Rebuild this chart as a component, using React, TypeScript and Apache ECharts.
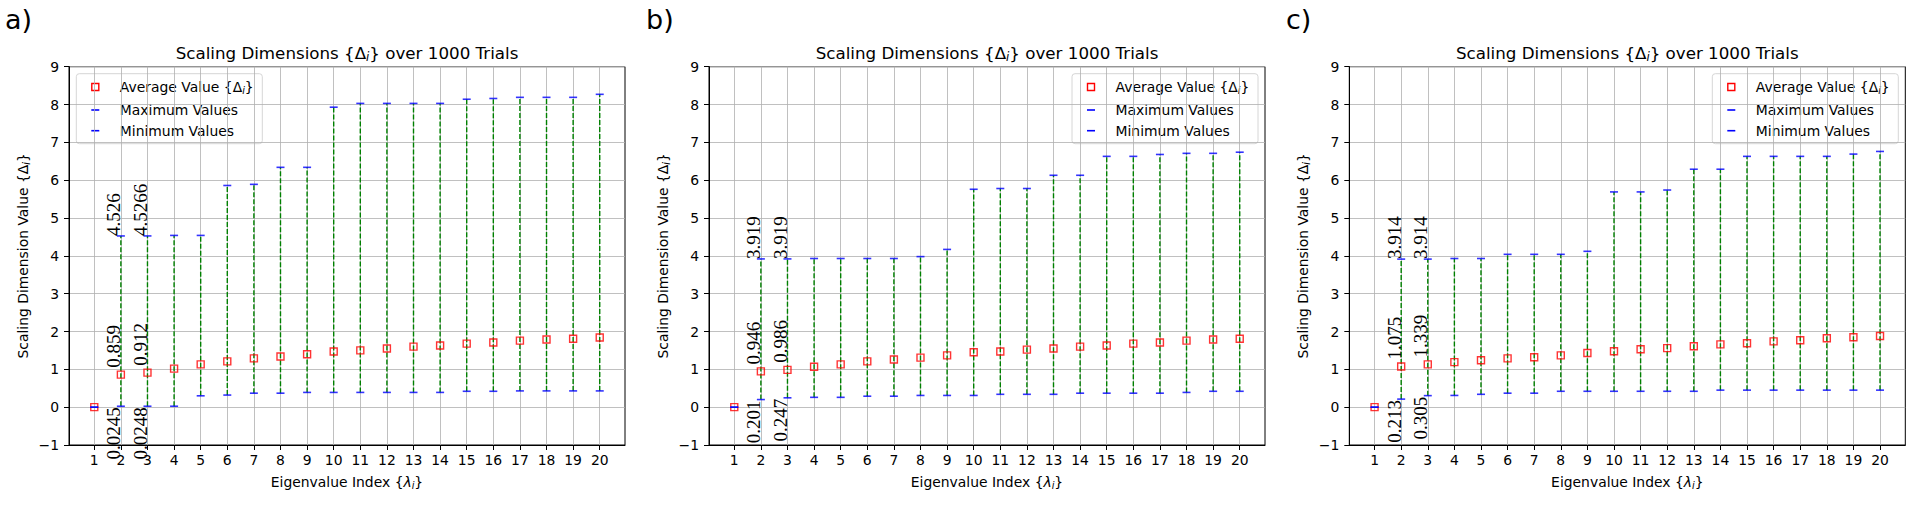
import React, { useEffect, useRef } from "react";
import * as echarts from "echarts";

// ---------------- data ----------------
const INDEX = [1, 2, 3, 4, 5, 6, 7, 8, 9, 10, 11, 12, 13, 14, 15, 16, 17, 18, 19, 20];

const MEAN_A = [0, 0.859, 0.912, 1.02, 1.13, 1.21, 1.29, 1.34, 1.4, 1.47, 1.5, 1.55, 1.6, 1.63, 1.68, 1.71, 1.76, 1.79, 1.81, 1.84];
const MAX_A = [0, 4.526, 4.5266, 4.54, 4.54, 5.86, 5.89, 6.34, 6.34, 7.93, 8.03, 8.03, 8.03, 8.03, 8.14, 8.16, 8.19, 8.19, 8.19, 8.27];
const MIN_A = [0, 0.0245, 0.0248, 0.025, 0.3, 0.32, 0.37, 0.37, 0.39, 0.39, 0.39, 0.39, 0.39, 0.39, 0.42, 0.42, 0.43, 0.43, 0.43, 0.43];

const MEAN_B = [0, 0.946, 0.986, 1.07, 1.13, 1.21, 1.26, 1.31, 1.37, 1.45, 1.47, 1.52, 1.55, 1.6, 1.63, 1.68, 1.71, 1.76, 1.79, 1.81];
const MAX_B = [0, 3.919, 3.919, 3.93, 3.93, 3.93, 3.93, 3.98, 4.17, 5.76, 5.78, 5.78, 6.13, 6.13, 6.63, 6.63, 6.68, 6.71, 6.71, 6.74];
const MIN_B = [0, 0.201, 0.247, 0.26, 0.26, 0.29, 0.29, 0.31, 0.31, 0.31, 0.34, 0.34, 0.34, 0.37, 0.37, 0.37, 0.37, 0.39, 0.42, 0.42];

const MEAN_C = [0, 1.075, 1.13, 1.19, 1.24, 1.29, 1.32, 1.37, 1.43, 1.48, 1.53, 1.56, 1.61, 1.66, 1.69, 1.74, 1.77, 1.82, 1.85, 1.88];
const MAX_C = [0, 3.914, 3.914, 3.93, 3.93, 4.04, 4.04, 4.04, 4.12, 5.69, 5.69, 5.74, 6.29, 6.29, 6.63, 6.63, 6.63, 6.63, 6.69, 6.76];
const MIN_C = [0, 0.213, 0.305, 0.31, 0.34, 0.37, 0.37, 0.42, 0.42, 0.42, 0.42, 0.42, 0.42, 0.45, 0.45, 0.45, 0.45, 0.45, 0.45, 0.45];

// annotated eigenvalue indices and their printed labels
const LABEL_INDEX = [2, 3];
const MEAN_LABELS_A = ["0.859", "0.912"];
const MAX_LABELS_A = ["4.526", "4.5266"];
const MIN_LABELS_A = ["0.0245", "0.0248"];
const MEAN_LABELS_B = ["0.946", "0.986"];
const MAX_LABELS_B = ["3.919", "3.919"];
const MIN_LABELS_B = ["0.201", "0.247"];
const MEAN_LABELS_C = ["1.075", "1.339"];
const MAX_LABELS_C = ["3.914", "3.914"];
const MIN_LABELS_C = ["0.213", "0.305"];

const PANEL_LETTERS = ["a)", "b)", "c)"];
const TITLE = "Scaling Dimensions {Δ{sub|i}} over 1000 Trials";
const X_NAME = "Eigenvalue Index {{it|λ}{sub|i}}";
const Y_NAME = "Scaling Dimension Value {Δ{sub|i}}";
const LEGEND_LABELS = ["Average Value {Δ{sub|i}}", "Maximum Values", "Minimum Values"];
const SERIES_NAMES = ["Average Value {Δi}", "Maximum Values", "Minimum Values"];

// ---------------- layout ----------------
const GRID_LEFT = [69, 709, 1349.3];
const GRID_TOP = 66.7;
const GRID_W = 556;
const GRID_H = 378.3;
const LEGEND_SIDE = ["left", "right", "right"];
const LETTER_X = [5, 646, 1286];

const SANS = "DejaVu Sans";
const SERIF = "Liberation Serif";
const FS = 13.9;

const subRich = (size: number, lh: number) => ({
  sub: { fontFamily: SANS, fontSize: size, fontStyle: "italic", lineHeight: lh, verticalAlign: "bottom", color: "#000", fill: "#000" },
  it: { fontFamily: SANS, fontSize: FS, fontStyle: "italic", lineHeight: 16, color: "#000", fill: "#000" },
});

const panels = [
  { mean: MEAN_A, max: MAX_A, min: MIN_A, ml: MEAN_LABELS_A, xl: MAX_LABELS_A, nl: MIN_LABELS_A },
  { mean: MEAN_B, max: MAX_B, min: MIN_B, ml: MEAN_LABELS_B, xl: MAX_LABELS_B, nl: MIN_LABELS_B },
  { mean: MEAN_C, max: MAX_C, min: MIN_C, ml: MEAN_LABELS_C, xl: MAX_LABELS_C, nl: MIN_LABELS_C },
];

function buildOption() {
  const grid = panels.map((_, i) => ({
    left: GRID_LEFT[i],
    top: GRID_TOP,
    width: GRID_W,
    height: GRID_H,
    show: true,
    borderColor: "#000",
    borderWidth: 1,
    backgroundColor: "#fff",
    containLabel: false,
    outerBoundsMode: "none",
  }));

  const xAxis = panels.map((_, i) => ({
    type: "value",
    gridIndex: i,
    min: 0.05,
    max: 20.95,
    axisLine: { show: true, onZero: false, lineStyle: { color: "#000", width: 1 } },
    axisTick: { show: true, customValues: INDEX, length: 5, lineStyle: { color: "#000", width: 1 } },
    axisLabel: { customValues: INDEX, margin: 8, fontSize: FS, color: "#000", fontFamily: SANS },
    splitLine: { show: true, lineStyle: { color: "#b0b0b0", width: 0.8 } },
    name: X_NAME,
    nameLocation: "middle",
    nameGap: 29,
    nameTextStyle: { fontFamily: SANS, fontSize: FS, color: "#000", lineHeight: 16, rich: subRich(9.7, 8) },
  }));

  const yAxis = panels.map((_, i) => ({
    type: "value",
    gridIndex: i,
    min: -1,
    max: 9,
    interval: 1,
    axisLine: { show: true, onZero: false, lineStyle: { color: "#000", width: 1 } },
    axisTick: { show: true, length: 5, lineStyle: { color: "#000", width: 1 } },
    axisLabel: {
      margin: 10,
      fontSize: FS,
      color: "#000",
      fontFamily: SANS,
      formatter: (v: number) => (v < 0 ? "\u2212" + Math.abs(v) : String(v)),
    },
    splitLine: { show: true, lineStyle: { color: "#b0b0b0", width: 0.8 } },
    name: Y_NAME,
    nameLocation: "middle",
    nameRotate: 90,
    nameGap: 38,
    nameTextStyle: { fontFamily: SANS, fontSize: FS, color: "#000", lineHeight: 16, rich: subRich(9.7, 8) },
  }));

  const series: any[] = [];
  panels.forEach((p, i) => {
    const annos: { x: number; y: number; text: string; kind: string }[] = [];
    LABEL_INDEX.forEach((x, j) => {
      annos.push({ x, y: p.mean[x - 1], text: p.ml[j], kind: "mean" });
      annos.push({ x, y: p.max[x - 1], text: p.xl[j], kind: "max" });
      annos.push({ x, y: p.min[x - 1], text: p.nl[j], kind: "min" });
    });

    series.push({
      type: "custom",
      name: "range",
      xAxisIndex: i,
      yAxisIndex: i,
      silent: true,
      z: 2,
      data: INDEX.map((x, k) => [x, p.min[k], p.max[k]]),
      renderItem: (_params: any, api: any) => {
        const lo = api.coord([api.value(0), api.value(1)]);
        const hi = api.coord([api.value(0), api.value(2)]);
        if (Math.abs(lo[1] - hi[1]) < 0.5) return null;
        return {
          type: "line",
          shape: { x1: lo[0], y1: lo[1], x2: hi[0], y2: hi[1] },
          style: { stroke: "#008000", lineWidth: 1.4, lineDash: [5, 2] },
        };
      },
    });
    series.push({
      type: "scatter",
      name: SERIES_NAMES[0],
      xAxisIndex: i,
      yAxisIndex: i,
      z: 3,
      data: INDEX.map((x, k) => [x, p.mean[k]]),
      symbol: "rect",
      symbolSize: 7,
      itemStyle: { color: "rgba(0,0,0,0)", borderColor: "#ff0000", borderWidth: 1.4 },
    });
    series.push({
      type: "scatter",
      name: SERIES_NAMES[1],
      xAxisIndex: i,
      yAxisIndex: i,
      z: 4,
      data: INDEX.map((x, k) => [x, p.max[k]]),
      symbol: "rect",
      symbolSize: [8, 1.6],
      itemStyle: { color: "#0000ff" },
    });
    series.push({
      type: "scatter",
      name: SERIES_NAMES[2],
      xAxisIndex: i,
      yAxisIndex: i,
      z: 4,
      data: INDEX.map((x, k) => [x, p.min[k]]),
      symbol: "rect",
      symbolSize: [8, 1.6],
      itemStyle: { color: "#0000ff" },
    });
    series.push({
      type: "custom",
      name: "annotations",
      xAxisIndex: i,
      yAxisIndex: i,
      silent: true,
      z: 5,
      clip: false,
      data: annos.map((a) => [a.x, a.y]),
      renderItem: (params: any, api: any) => {
        const a = annos[params.dataIndex];
        const pt = api.coord([api.value(0), api.value(1)]);
        let y = pt[1];
        let align = "left";
        if (a.kind === "mean") y = pt[1] - 7;
        else if (a.kind === "max") y = pt[1];
        else {
          y = pt[1] + 1;
          align = "right";
        }
        return {
          type: "text",
          x: pt[0] - 7,
          y,
          rotation: Math.PI / 2,
          style: { text: a.text, fontFamily: SERIF, fontSize: 19, fill: "#000", align, verticalAlign: "middle" },
        };
      },
    });
  });

  const title = panels.map((_, i) => ({
    text: TITLE,
    left: GRID_LEFT[i] + GRID_W / 2,
    top: 43,
    textAlign: "center",
    padding: 0,
    textStyle: {
      fontFamily: SANS,
      fontSize: 16.7,
      fontWeight: "normal",
      color: "#000",
      lineHeight: 20,
      rich: {
        sub: { fontFamily: SANS, fontSize: 11.7, fontStyle: "italic", lineHeight: 10, verticalAlign: "bottom", color: "#000" },
      },
    },
  }));

  const graphic: any[] = [];
  panels.forEach((_, i) => {
    graphic.push({
      type: "text",
      x: LETTER_X[i],
      y: 19,
      z: 100,
      style: { text: PANEL_LETTERS[i], fontFamily: SANS, fontSize: 27, fill: "#000", verticalAlign: "middle" },
    });
    const boxW = 186;
    const boxH = 70;
    const left = LEGEND_SIDE[i] === "left" ? GRID_LEFT[i] + 7.3 : GRID_LEFT[i] + GRID_W - 7 - boxW;
    const top = GRID_TOP + 7;
    const rows = [top + 13.3, top + 36.3, top + 57];
    const mx = left + 19;
    const children: any[] = [
      {
        type: "rect",
        shape: { x: left, y: top, width: boxW, height: boxH, r: 3 },
        style: { fill: "rgba(255,255,255,0.8)", stroke: "#d6d6d6", lineWidth: 1 },
      },
      {
        type: "rect",
        shape: { x: mx - 3.5, y: rows[0] - 3.5, width: 7, height: 7 },
        style: { fill: "none", stroke: "#ff0000", lineWidth: 1.4 },
      },
      {
        type: "rect",
        shape: { x: mx - 4, y: rows[1] - 0.8, width: 8, height: 1.6 },
        style: { fill: "#0000ff" },
      },
      {
        type: "rect",
        shape: { x: mx - 4, y: rows[2] - 0.8, width: 8, height: 1.6 },
        style: { fill: "#0000ff" },
      },
    ];
    LEGEND_LABELS.forEach((lab, k) => {
      children.push({
        type: "text",
        x: left + 43.5,
        y: rows[k],
        style: {
          text: lab,
          fontFamily: SANS,
          fontSize: FS,
          lineHeight: 16,
          fill: "#000",
          verticalAlign: "middle",
          rich: {
            sub: { fontFamily: SANS, fontSize: 9.7, fontStyle: "italic", lineHeight: 8, verticalAlign: "bottom", fill: "#000" },
          },
        },
      });
    });
    graphic.push({ type: "group", z: 100, children });
  });

  return {
    animation: false,
    backgroundColor: "#fff",
    textStyle: { fontFamily: SANS },
    title,
    grid,
    xAxis,
    yAxis,
    series,
    graphic,
  };
}

export default function App() {
  const ref = useRef<HTMLDivElement>(null);
  useEffect(() => {
    if (!ref.current) return;
    const chart = echarts.init(ref.current, null, { renderer: "svg" });
    chart.setOption(buildOption() as any);
    return () => chart.dispose();
  }, []);
  return (
    <div
      ref={ref}
      style={{ position: "fixed", left: 0, top: 0, width: "1921px", height: "509px", background: "#fff" }}
    />
  );
}
